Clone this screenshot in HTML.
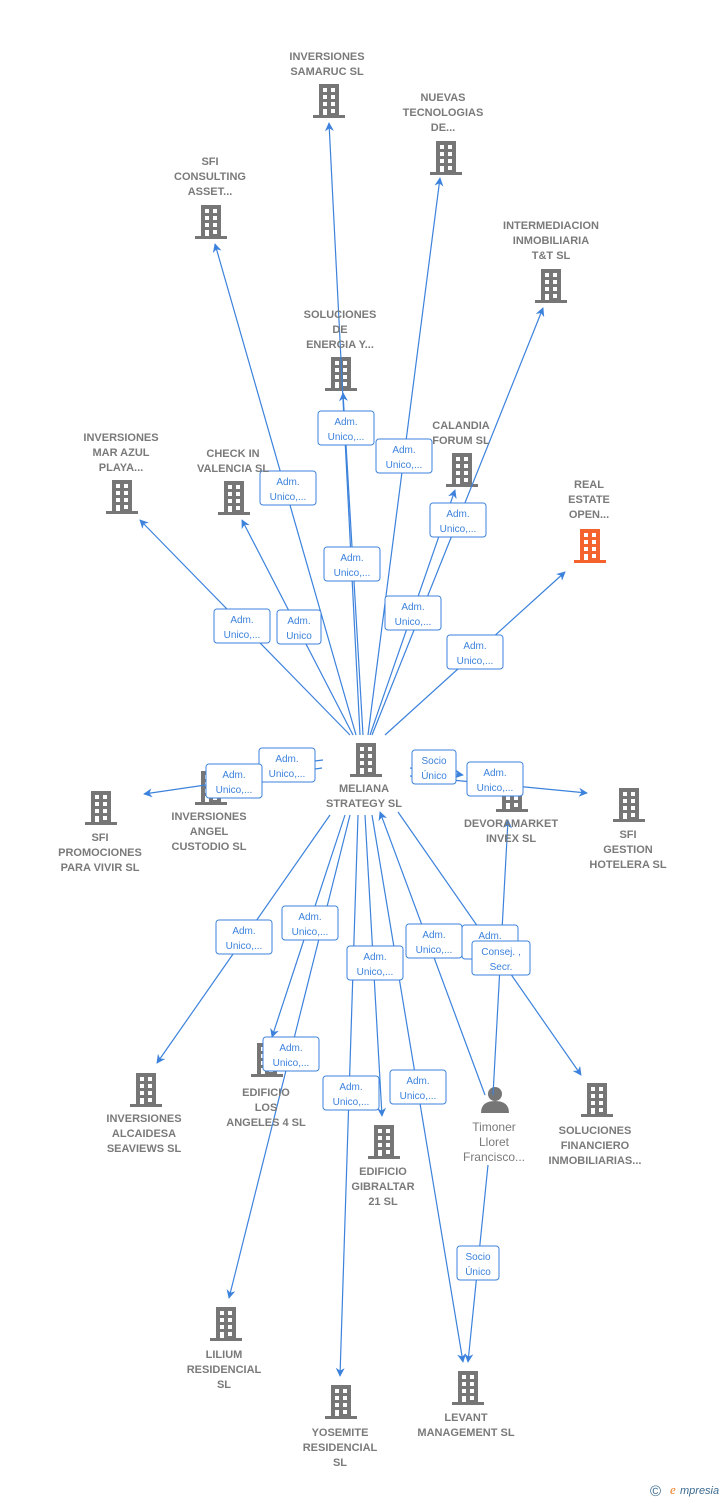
<!DOCTYPE html>
<html><head><meta charset="utf-8"><style>
body{margin:0;background:#fff;}
svg{display:block;font-family:"Liberation Sans",sans-serif;}
.t{font-size:11px;fill:#7a7a7a;text-anchor:middle;font-weight:bold;white-space:pre;}
.l{stroke:#3c82dc;stroke-width:1.2;fill:none;marker-end:url(#a);}
.n{stroke:#3c82dc;stroke-width:1.2;fill:none;}
.b rect{fill:#fff;stroke:#3c82dc;stroke-width:1;}
.b text{font-size:10px;fill:#3c82dc;text-anchor:middle;}
</style></head><body>
<svg width="728" height="1500" viewBox="0 0 728 1500">
<defs>
<marker id="a" viewBox="0 0 10 10" refX="9" refY="5" markerWidth="9" markerHeight="9" orient="auto" markerUnits="userSpaceOnUse"><path d="M0,0 L10,5 L0,10 L3,5z" fill="#3c82dc"/></marker>
<symbol id="bd" viewBox="0 0 32 34"><rect x="6" y="0" width="20" height="31" fill="currentColor"/><rect x="0" y="31" width="32" height="3" fill="currentColor"/><g fill="#fff"><rect x="10" y="4" width="4" height="4"/><rect x="18" y="4" width="4" height="4"/><rect x="10" y="11" width="4" height="4"/><rect x="18" y="11" width="4" height="4"/><rect x="10" y="18" width="4" height="4"/><rect x="18" y="18" width="4" height="4"/><rect x="10" y="25" width="4" height="6"/><rect x="18" y="25" width="4" height="4"/></g></symbol>
</defs>
<g color="#767676">
<use href="#bd" x="313" y="84" width="32" height="34"/>
<use href="#bd" x="430" y="141" width="32" height="34"/>
<use href="#bd" x="195" y="205" width="32" height="34"/>
<use href="#bd" x="535" y="269" width="32" height="34"/>
<use href="#bd" x="325" y="357" width="32" height="34"/>
<use href="#bd" x="446" y="453" width="32" height="34"/>
<use href="#bd" x="106" y="480" width="32" height="34"/>
<use href="#bd" x="218" y="481" width="32" height="34"/>
<use href="#bd" x="350" y="743" width="32" height="34"/>
<use href="#bd" x="85" y="791" width="32" height="34"/>
<use href="#bd" x="195" y="771" width="32" height="34"/>
<use href="#bd" x="496" y="778" width="32" height="34"/>
<use href="#bd" x="613" y="788" width="32" height="34"/>
<use href="#bd" x="130" y="1073" width="32" height="34"/>
<use href="#bd" x="251" y="1043" width="32" height="34"/>
<use href="#bd" x="368" y="1125" width="32" height="34"/>
<use href="#bd" x="581" y="1083" width="32" height="34"/>
<use href="#bd" x="210" y="1307" width="32" height="34"/>
<use href="#bd" x="325" y="1385" width="32" height="34"/>
<use href="#bd" x="452" y="1371" width="32" height="34"/>
</g>
<use href="#bd" x="574" y="529" width="32" height="34" color="#f4622d"/>
<g fill="#767676"><circle cx="495" cy="1094" r="7"/><path d="M481,1113 Q481,1101 495,1101 Q509,1101 509,1113z"/></g>

<g>
<path class="l" d="M360,735 L329,123"/>
<path class="l" d="M368,735 L440,178"/>
<path class="l" d="M356,735 L215,244"/>
<path class="l" d="M372,735 L543,308"/>
<path class="l" d="M363,735 L343,393"/>
<path class="l" d="M370,735 L455,490"/>
<path class="l" d="M350,735 L140,520"/>
<path class="l" d="M353,735 L242,520"/>
<path class="l" d="M385,735 L565,572"/>
<path class="l" d="M322,768 L144,794"/>
<path class="n" d="M323,760 L240,770"/>
<path class="l" d="M410,768 L463,775"/>
<path class="l" d="M410,776 L587,793"/>
<path class="l" d="M330,815 L157,1063"/>
<path class="l" d="M345,815 L272,1037"/>
<path class="l" d="M365,815 L382,1116"/>
<path class="l" d="M398,812 L581,1075"/>
<path class="l" d="M350,815 L229,1298"/>
<path class="l" d="M358,815 L340,1376"/>
<path class="l" d="M372,815 L463,1362"/>
<path class="l" d="M485,1095 L380,812"/>
<path class="l" d="M493,1095 L508,820"/>
<path class="l" d="M488,1165 L468,1362"/>
</g>

<g class="b">
<rect x="318" y="411" width="56" height="34" rx="3"/><text x="346" y="425">Adm.</text><text x="346" y="440">Unico,...</text>
<rect x="376" y="439" width="56" height="34" rx="3"/><text x="404" y="453">Adm.</text><text x="404" y="468">Unico,...</text>
<rect x="260" y="471" width="56" height="34" rx="3"/><text x="288" y="485">Adm.</text><text x="288" y="500">Unico,...</text>
<rect x="430" y="503" width="56" height="34" rx="3"/><text x="458" y="517">Adm.</text><text x="458" y="532">Unico,...</text>
<rect x="324" y="547" width="56" height="34" rx="3"/><text x="352" y="561">Adm.</text><text x="352" y="576">Unico,...</text>
<rect x="385" y="596" width="56" height="34" rx="3"/><text x="413" y="610">Adm.</text><text x="413" y="625">Unico,...</text>
<rect x="214" y="609" width="56" height="34" rx="3"/><text x="242" y="623">Adm.</text><text x="242" y="638">Unico,...</text>
<rect x="277" y="610" width="44" height="34" rx="3"/><text x="299" y="624">Adm.</text><text x="299" y="639">Unico</text>
<rect x="447" y="635" width="56" height="34" rx="3"/><text x="475" y="649">Adm.</text><text x="475" y="664">Unico,...</text>
<rect x="259" y="748" width="56" height="34" rx="3"/><text x="287" y="762">Adm.</text><text x="287" y="777">Unico,...</text>
<rect x="206" y="764" width="56" height="34" rx="3"/><text x="234" y="778">Adm.</text><text x="234" y="793">Unico,...</text>
<rect x="412" y="750" width="44" height="34" rx="3"/><text x="434" y="764">Socio</text><text x="434" y="779">Único</text>
<rect x="467" y="762" width="56" height="34" rx="3"/><text x="495" y="776">Adm.</text><text x="495" y="791">Unico,...</text>
<rect x="216" y="920" width="56" height="34" rx="3"/><text x="244" y="934">Adm.</text><text x="244" y="949">Unico,...</text>
<rect x="282" y="906" width="56" height="34" rx="3"/><text x="310" y="920">Adm.</text><text x="310" y="935">Unico,...</text>
<rect x="347" y="946" width="56" height="34" rx="3"/><text x="375" y="960">Adm.</text><text x="375" y="975">Unico,...</text>
<rect x="406" y="924" width="56" height="34" rx="3"/><text x="434" y="938">Adm.</text><text x="434" y="953">Unico,...</text>
<rect x="462" y="925" width="56" height="34" rx="3"/><text x="490" y="939">Adm.</text><text x="490" y="954">Unico,...</text>
<rect x="472" y="941" width="58" height="34" rx="3"/><text x="501" y="955">Consej. ,</text><text x="501" y="970">Secr.</text>
<rect x="263" y="1037" width="56" height="34" rx="3"/><text x="291" y="1051">Adm.</text><text x="291" y="1066">Unico,...</text>
<rect x="323" y="1076" width="56" height="34" rx="3"/><text x="351" y="1090">Adm.</text><text x="351" y="1105">Unico,...</text>
<rect x="390" y="1070" width="56" height="34" rx="3"/><text x="418" y="1084">Adm.</text><text x="418" y="1099">Unico,...</text>
<rect x="457" y="1246" width="42" height="34" rx="3"/><text x="478" y="1260">Socio</text><text x="478" y="1275">Único</text>
</g>

<g class="t">
<text x="327" y="60">INVERSIONES</text><text x="327" y="75">SAMARUC  SL</text>
<text x="443" y="101">NUEVAS</text><text x="443" y="116">TECNOLOGIAS</text><text x="443" y="131">DE...</text>
<text x="210" y="165">SFI</text><text x="210" y="180">CONSULTING</text><text x="210" y="195">ASSET...</text>
<text x="551" y="229">INTERMEDIACION</text><text x="551" y="244">INMOBILIARIA</text><text x="551" y="259">T&amp;T  SL</text>
<text x="340" y="318">SOLUCIONES</text><text x="340" y="333">DE</text><text x="340" y="348">ENERGIA Y...</text>
<text x="461" y="429">CALANDIA</text><text x="461" y="444">FORUM  SL</text>
<text x="121" y="441">INVERSIONES</text><text x="121" y="456">MAR AZUL</text><text x="121" y="471">PLAYA...</text>
<text x="233" y="457">CHECK IN</text><text x="233" y="472">VALENCIA  SL</text>
<text x="589" y="488">REAL</text><text x="589" y="503">ESTATE</text><text x="589" y="518">OPEN...</text>
<text x="364" y="792">MELIANA</text><text x="364" y="807">STRATEGY SL</text>
<text x="100" y="841">SFI</text><text x="100" y="856">PROMOCIONES</text><text x="100" y="871">PARA VIVIR  SL</text>
<text x="209" y="820">INVERSIONES</text><text x="209" y="835">ANGEL</text><text x="209" y="850">CUSTODIO  SL</text>
<text x="511" y="827">DEVORAMARKET</text><text x="511" y="842">INVEX  SL</text>
<text x="628" y="838">SFI</text><text x="628" y="853">GESTION</text><text x="628" y="868">HOTELERA  SL</text>
<text x="144" y="1122">INVERSIONES</text><text x="144" y="1137">ALCAIDESA</text><text x="144" y="1152">SEAVIEWS  SL</text>
<text x="266" y="1096">EDIFICIO</text><text x="266" y="1111">LOS</text><text x="266" y="1126">ANGELES 4  SL</text>
<text x="383" y="1175">EDIFICIO</text><text x="383" y="1190">GIBRALTAR</text><text x="383" y="1205">21  SL</text>
<text x="595" y="1134">SOLUCIONES</text><text x="595" y="1149">FINANCIERO</text><text x="595" y="1164">INMOBILIARIAS...</text>
<text x="224" y="1358">LILIUM</text><text x="224" y="1373">RESIDENCIAL</text><text x="224" y="1388">SL</text>
<text x="340" y="1436">YOSEMITE</text><text x="340" y="1451">RESIDENCIAL</text><text x="340" y="1466">SL</text>
<text x="466" y="1421">LEVANT</text><text x="466" y="1436">MANAGEMENT SL</text>
</g>
<g style="font-size:12px;fill:#7a7a7a;text-anchor:middle">
<text x="494" y="1131">Timoner</text><text x="494" y="1146">Lloret</text><text x="494" y="1161">Francisco...</text>
</g>
<text x="650" y="1496" style="font-size:15px;fill:#3a6a90">©</text>
<text x="670" y="1494" style="font-size:13px;fill:#f07a1a;font-style:italic;font-family:'Liberation Serif',serif">e</text>
<text x="680" y="1494" style="font-size:11px;fill:#3a6a90;font-style:italic">mpresia</text>
</svg>
</body></html>
